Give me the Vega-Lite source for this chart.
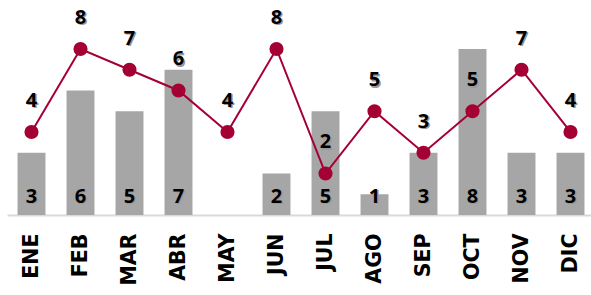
{
  "$schema": "https://vega.github.io/schema/vega-lite/v6.json",
  "autosize": "none",
  "width": 588,
  "height": 215,
  "padding": {"left": 7, "top": 0, "right": 0, "bottom": 80},
  "background": "white",
  "config": {"view": {"stroke": null}},
  "data": {"values": [
    {"mes": "ENE", "barra": 3, "linea": 4},
    {"mes": "FEB", "barra": 6, "linea": 8},
    {"mes": "MAR", "barra": 5, "linea": 7},
    {"mes": "ABR", "barra": 7, "linea": 6},
    {"mes": "MAY", "barra": 0, "linea": 4},
    {"mes": "JUN", "barra": 2, "linea": 8},
    {"mes": "JUL", "barra": 5, "linea": 2},
    {"mes": "AGO", "barra": 1, "linea": 5},
    {"mes": "SEP", "barra": 3, "linea": 3},
    {"mes": "OCT", "barra": 8, "linea": 5},
    {"mes": "NOV", "barra": 3, "linea": 7},
    {"mes": "DIC", "barra": 3, "linea": 4}
  ]},
  "encoding": {
    "x": {"field": "mes", "type": "nominal", "sort": null,
      "scale": {"paddingInner": 0.43, "paddingOuter": 0.215},
      "axis": {"title": null, "labelAngle": -90, "labelAlign": "right", "labelBaseline": "middle",
        "labelFont": "DejaVu Sans", "labelFontSize": 20.5, "labelFontWeight": "bold", "labelColor": "black",
        "ticks": false, "labelPadding": 18, "domainColor": "#D9D9D9", "domainWidth": 2}}
  },
  "layer": [
    {"mark": {"type": "bar", "color": "#A6A6A6"},
     "encoding": {"y": {"field": "barra", "type": "quantitative", "scale": {"domain": [0, 10.36], "nice": false}, "axis": null}}},
    {"transform": [{"filter": "datum.barra > 0"}],
     "mark": {"type": "text", "font": "Open Sans", "fontWeight": "bold", "fontSize": 20, "color": "#999999", "baseline": "alphabetic", "dx": 1.5, "dy": 1.5},
     "encoding": {"y": {"datum": 0.6, "type": "quantitative"}, "text": {"field": "barra"}}},
    {"transform": [{"filter": "datum.barra > 0"}],
     "mark": {"type": "text", "font": "Open Sans", "fontWeight": "bold", "fontSize": 20, "color": "black", "baseline": "alphabetic"},
     "encoding": {"y": {"datum": 0.6, "type": "quantitative"}, "text": {"field": "barra"}}},
    {"mark": {"type": "line", "color": "#A50034", "strokeWidth": 2},
     "encoding": {"y": {"field": "linea", "type": "quantitative"}}},
    {"mark": {"type": "circle", "color": "#A50034", "opacity": 1, "size": 200},
     "encoding": {"y": {"field": "linea", "type": "quantitative"}}},
    {"mark": {"type": "text", "font": "Open Sans", "fontWeight": "bold", "fontSize": 20, "color": "#999999", "baseline": "middle", "dy": -29.5, "dx": 1.5},
     "encoding": {"y": {"field": "linea", "type": "quantitative"}, "text": {"field": "linea"}}},
    {"mark": {"type": "text", "font": "Open Sans", "fontWeight": "bold", "fontSize": 20, "color": "black", "baseline": "middle", "dy": -31},
     "encoding": {"y": {"field": "linea", "type": "quantitative"}, "text": {"field": "linea"}}}
  ]
}
